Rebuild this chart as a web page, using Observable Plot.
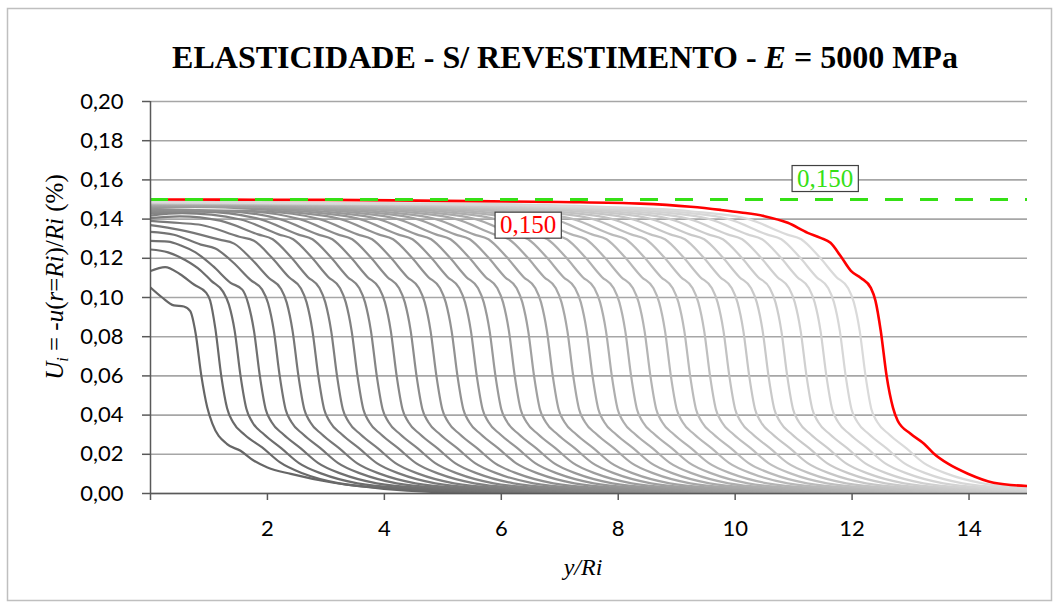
<!DOCTYPE html>
<html><head><meta charset="utf-8">
<script src="https://cdn.jsdelivr.net/npm/d3@7"></script>
<script src="https://cdn.jsdelivr.net/npm/@observablehq/plot@0.6"></script>
<style>
html,body{margin:0;padding:0;background:#fff;}
#chart{position:relative;width:1060px;height:608px;}
</style></head><body><div id="chart"></div>
<script>
// ---- data ----
const xTicks = [0, 2, 4, 6, 8, 10, 12, 14];
const yTicks = [0, 0.02, 0.04, 0.06, 0.08, 0.10, 0.12, 0.14, 0.16, 0.18, 0.20];
const threshold = 0.150;           // green dashed limit
const finalValue = 0.150;          // red curve value at the portal

// gray curves: one per excavation stage, [y/Ri, Ui (%)]
const stageCurves = [
 [[0,.1051],[0.2,.1000],[0.4,.0960],[0.57,.0954],[0.68,.0930],[0.77,.0820],[0.87,.0600],[0.97,.0440],[1.06,.0355],[1.31,.0252],[1.54,.0218],[1.77,.0167],[2.0,.0133],[2.4,.0100],[3.13,.0055],[3.99,.0024],[5.13,.0005],[6.5,0]],
 [[0,.1135],[0.25,.1155],[0.5,.1120],[0.75,.1065],[0.95,.1025],[1.02,.0985],[1.11,.0840],[1.21,.0600],[1.31,.0435],[1.41,.0365],[1.61,.0300],[1.91,.0235],[2.21,.0160],[2.61,.0102],[3.21,.0053],[4.21,.0024],[5.51,.0005],[7.0,0]],
 [[0,.1245],[0.3,.1230],[0.6,.1190],[0.85,.1140],[1.04,.1085],[1.24,.1030],[1.34,.0965],[1.44,.0830],[1.54,.0600],[1.64,.0432],[1.74,.0365],[1.94,.0302],[2.24,.0230],[2.54,.0155],[2.94,.0100],[3.54,.0052],[4.54,.0024],[5.84,.0005],[7.3,0]],
 [[0,.1289],[0.3,.1285],[0.52,.1265],[0.77,.1230],[1.07,.1160],[1.37,.1075],[1.57,.1040],[1.67,.0970],[1.77,.0830],[1.87,.0600],[1.97,.0430],[2.07,.0365],[2.27,.0302],[2.57,.0230],[2.87,.0155],[3.27,.0100],[3.87,.0052],[4.87,.0024],[6.17,.0005],[7.6,0]],
 [[0,.1335],[0.4,.1320],[0.86,.1270],[1.11,.1250],[1.41,.1180],[1.71,.1090],[1.91,.1040],[2.01,.0972],[2.11,.0830],[2.21,.0600],[2.31,.0430],[2.41,.0365],[2.61,.0302],[2.91,.0230],[3.21,.0155],[3.61,.0100],[4.21,.0052],[5.21,.0024],[6.51,.0005],[7.9,0]],
 [[0,.1369],[0.5,.1345],[1.18,.1295],[1.43,.1275],[1.73,.1195],[2.03,.1098],[2.23,.1045],[2.33,.0974],[2.43,.0830],[2.53,.0600],[2.63,.0430],[2.73,.0365],[2.93,.0302],[3.23,.0230],[3.53,.0155],[3.93,.0100],[4.53,.0052],[5.53,.0024],[6.83,.0005],[8.2,0]],
 [[0,.1391],[0.5,.1380],[0.87,.1370],[1.52,.1310],[1.77,.1290],[2.07,.1205],[2.37,.1103],[2.57,.1047],[2.67,.0975],[2.77,.0830],[2.87,.0600],[2.97,.0430],[3.07,.0365],[3.27,.0302],[3.57,.0230],[3.87,.0155],[4.27,.0100],[4.87,.0052],[5.87,.0024],[7.17,.0005],[8.6,0]],
 [[0,.1405],[0.5,.1414],[1.19,.1392],[1.84,.1322],[2.09,.1297],[2.39,.1210],[2.69,.1105],[2.89,.1048],[2.99,.0975],[3.09,.0830],[3.19,.0600],[3.29,.0430],[3.39,.0365],[3.59,.0302],[3.89,.0230],[4.19,.0155],[4.59,.0100],[5.19,.0052],[6.19,.0024],[7.49,.0005],[8.89,0]],
 [[0,.1418],[0.54,.1430],[1.54,.1398],[2.19,.1322],[2.44,.1297],[2.74,.1210],[3.04,.1105],[3.24,.1048],[3.34,.0975],[3.44,.0830],[3.54,.0600],[3.64,.0430],[3.74,.0365],[3.94,.0302],[4.24,.0230],[4.54,.0155],[4.94,.0100],[5.54,.0052],[6.54,.0024],[7.84,.0005],[9.24,0]],
 [[0,.1428],[0.87,.1438],[1.87,.1400],[2.52,.1322],[2.77,.1297],[3.07,.1210],[3.37,.1105],[3.57,.1048],[3.67,.0975],[3.77,.0830],[3.87,.0600],[3.97,.0430],[4.07,.0365],[4.27,.0302],[4.57,.0230],[4.87,.0155],[5.27,.0100],[5.87,.0052],[6.87,.0024],[8.17,.0005],[9.57,0]],
 [[0,.1436],[1.21,.1440],[2.21,.1400],[2.86,.1322],[3.11,.1297],[3.41,.1210],[3.71,.1105],[3.91,.1048],[4.01,.0975],[4.11,.0830],[4.21,.0600],[4.31,.0430],[4.41,.0365],[4.61,.0302],[4.91,.0230],[5.21,.0155],[5.61,.0100],[6.21,.0052],[7.21,.0024],[8.51,.0005],[9.91,0]],
 [[0,.1443],[1.55,.1440],[2.55,.1400],[3.2,.1322],[3.45,.1297],[3.75,.1210],[4.05,.1105],[4.25,.1048],[4.35,.0975],[4.45,.0830],[4.55,.0600],[4.65,.0430],[4.75,.0365],[4.95,.0302],[5.25,.0230],[5.55,.0155],[5.95,.0100],[6.55,.0052],[7.55,.0024],[8.85,.0005],[10.25,0]],
 [[0,.1449],[1.89,.1440],[2.89,.1400],[3.54,.1322],[3.79,.1297],[4.09,.1210],[4.39,.1105],[4.59,.1048],[4.69,.0975],[4.79,.0830],[4.89,.0600],[4.99,.0430],[5.09,.0365],[5.29,.0302],[5.59,.0230],[5.89,.0155],[6.29,.0100],[6.89,.0052],[7.89,.0024],[9.19,.0005],[10.59,0]],
 [[0,.1455],[0.75,.1462],[2.25,.1440],[3.25,.1400],[3.9,.1322],[4.15,.1297],[4.45,.1210],[4.75,.1105],[4.95,.1048],[5.05,.0975],[5.15,.0830],[5.25,.0600],[5.35,.0430],[5.45,.0365],[5.65,.0302],[5.95,.0230],[6.25,.0155],[6.65,.0100],[7.25,.0052],[8.25,.0024],[9.55,.0005],[10.95,0]],
 [[0,.1460],[1.08,.1462],[2.58,.1440],[3.58,.1400],[4.23,.1322],[4.48,.1297],[4.78,.1210],[5.08,.1105],[5.28,.1048],[5.38,.0975],[5.48,.0830],[5.58,.0600],[5.68,.0430],[5.78,.0365],[5.98,.0302],[6.28,.0230],[6.58,.0155],[6.98,.0100],[7.58,.0052],[8.58,.0024],[9.88,.0005],[11.28,0]],
 [[0,.1464],[1.4,.1462],[2.9,.1440],[3.9,.1400],[4.55,.1322],[4.8,.1297],[5.1,.1210],[5.4,.1105],[5.6,.1048],[5.7,.0975],[5.8,.0830],[5.9,.0600],[6.0,.0430],[6.1,.0365],[6.3,.0302],[6.6,.0230],[6.9,.0155],[7.3,.0100],[7.9,.0052],[8.9,.0024],[10.2,.0005],[11.6,0]],
 [[0,.1467],[1.73,.1462],[3.23,.1440],[4.23,.1400],[4.88,.1322],[5.13,.1297],[5.43,.1210],[5.73,.1105],[5.93,.1048],[6.03,.0975],[6.13,.0830],[6.23,.0600],[6.33,.0430],[6.43,.0365],[6.63,.0302],[6.93,.0230],[7.23,.0155],[7.63,.0100],[8.23,.0052],[9.23,.0024],[10.53,.0005],[11.93,0]],
 [[0,.1470],[2.06,.1462],[3.56,.1440],[4.56,.1400],[5.21,.1322],[5.46,.1297],[5.76,.1210],[6.06,.1105],[6.26,.1048],[6.36,.0975],[6.46,.0830],[6.56,.0600],[6.66,.0430],[6.76,.0365],[6.96,.0302],[7.26,.0230],[7.56,.0155],[7.96,.0100],[8.56,.0052],[9.56,.0024],[10.86,.0005],[12.26,0]],
 [[0,.1472],[0.88,.1475],[2.38,.1462],[3.88,.1440],[4.88,.1400],[5.53,.1322],[5.78,.1297],[6.08,.1210],[6.38,.1105],[6.58,.1048],[6.68,.0975],[6.78,.0830],[6.88,.0600],[6.98,.0430],[7.08,.0365],[7.28,.0302],[7.58,.0230],[7.88,.0155],[8.28,.0100],[8.88,.0052],[9.88,.0024],[11.18,.0005],[12.58,0]],
 [[0,.1474],[1.23,.1475],[2.73,.1462],[4.23,.1440],[5.23,.1400],[5.88,.1322],[6.13,.1297],[6.43,.1210],[6.73,.1105],[6.93,.1048],[7.03,.0975],[7.13,.0830],[7.23,.0600],[7.33,.0430],[7.43,.0365],[7.63,.0302],[7.93,.0230],[8.23,.0155],[8.63,.0100],[9.23,.0052],[10.23,.0024],[11.53,.0005],[12.93,0]],
 [[0,.1476],[1.56,.1475],[3.06,.1462],[4.56,.1440],[5.56,.1400],[6.21,.1322],[6.46,.1297],[6.76,.1210],[7.06,.1105],[7.26,.1048],[7.36,.0975],[7.46,.0830],[7.56,.0600],[7.66,.0430],[7.76,.0365],[7.96,.0302],[8.26,.0230],[8.56,.0155],[8.96,.0100],[9.56,.0052],[10.56,.0024],[11.86,.0005],[13.26,0]],
 [[0,.1478],[1.89,.1475],[3.39,.1462],[4.89,.1440],[5.89,.1400],[6.54,.1322],[6.79,.1297],[7.09,.1210],[7.39,.1105],[7.59,.1048],[7.69,.0975],[7.79,.0830],[7.89,.0600],[7.99,.0430],[8.09,.0365],[8.29,.0302],[8.59,.0230],[8.89,.0155],[9.29,.0100],[9.89,.0052],[10.89,.0024],[12.19,.0005],[13.59,0]],
 [[0,.1479],[2.22,.1475],[3.72,.1462],[5.22,.1440],[6.22,.1400],[6.87,.1322],[7.12,.1297],[7.42,.1210],[7.72,.1105],[7.92,.1048],[8.02,.0975],[8.12,.0830],[8.22,.0600],[8.32,.0430],[8.42,.0365],[8.62,.0302],[8.92,.0230],[9.22,.0155],[9.62,.0100],[10.22,.0052],[11.22,.0024],[12.52,.0005],[13.92,0]],
 [[0,.1480],[2.55,.1475],[4.05,.1462],[5.55,.1440],[6.55,.1400],[7.2,.1322],[7.45,.1297],[7.75,.1210],[8.05,.1105],[8.25,.1048],[8.35,.0975],[8.45,.0830],[8.55,.0600],[8.65,.0430],[8.75,.0365],[8.95,.0302],[9.25,.0230],[9.55,.0155],[9.95,.0100],[10.55,.0052],[11.55,.0024],[12.85,.0005],[14.25,0]],
 [[0,.1481],[2.9,.1475],[4.4,.1462],[5.9,.1440],[6.9,.1400],[7.55,.1322],[7.8,.1297],[8.1,.1210],[8.4,.1105],[8.6,.1048],[8.7,.0975],[8.8,.0830],[8.9,.0600],[9.0,.0430],[9.1,.0365],[9.3,.0302],[9.6,.0230],[9.9,.0155],[10.3,.0100],[10.9,.0052],[11.9,.0024],[13.2,.0005],[14.6,0]],
 [[0,.1482],[3.23,.1475],[4.73,.1462],[6.23,.1440],[7.23,.1400],[7.88,.1322],[8.13,.1297],[8.43,.1210],[8.73,.1105],[8.93,.1048],[9.03,.0975],[9.13,.0830],[9.23,.0600],[9.33,.0430],[9.43,.0365],[9.63,.0302],[9.93,.0230],[10.23,.0155],[10.63,.0100],[11.23,.0052],[12.23,.0024],[13.53,.0005],[14.93,0]],
 [[0,.1483],[3.57,.1475],[5.07,.1462],[6.57,.1440],[7.57,.1400],[8.22,.1322],[8.47,.1297],[8.77,.1210],[9.07,.1105],[9.27,.1048],[9.37,.0975],[9.47,.0830],[9.57,.0600],[9.67,.0430],[9.77,.0365],[9.97,.0302],[10.27,.0230],[10.57,.0155],[10.97,.0100],[11.57,.0052],[12.57,.0024],[13.87,.0005],[15.27,0]],
 [[0,.1484],[3.9,.1475],[5.4,.1462],[6.9,.1440],[7.9,.1400],[8.55,.1322],[8.8,.1297],[9.1,.1210],[9.4,.1105],[9.6,.1048],[9.7,.0975],[9.8,.0830],[9.9,.0600],[10.0,.0430],[10.1,.0365],[10.3,.0302],[10.6,.0230],[10.9,.0155],[11.3,.0100],[11.9,.0052],[12.9,.0024],[14.2,.0005],[15.6,0]],
 [[0,.1485],[4.24,.1475],[5.74,.1462],[7.24,.1440],[8.24,.1400],[8.89,.1322],[9.14,.1297],[9.44,.1210],[9.74,.1105],[9.94,.1048],[10.04,.0975],[10.14,.0830],[10.24,.0600],[10.34,.0430],[10.44,.0365],[10.64,.0302],[10.94,.0230],[11.24,.0155],[11.64,.0100],[12.24,.0052],[13.24,.0024],[14.54,.0005],[15.94,0]],
 [[0,.1485],[4.57,.1475],[6.07,.1462],[7.57,.1440],[8.57,.1400],[9.22,.1322],[9.47,.1297],[9.77,.1210],[10.07,.1105],[10.27,.1048],[10.37,.0975],[10.47,.0830],[10.57,.0600],[10.67,.0430],[10.77,.0365],[10.97,.0302],[11.27,.0230],[11.57,.0155],[11.97,.0100],[12.57,.0052],[13.57,.0024],[14.87,.0005],[16.27,0]],
 [[0,.1486],[4.89,.1475],[6.39,.1462],[7.89,.1440],[8.89,.1400],[9.54,.1322],[9.79,.1297],[10.09,.1210],[10.39,.1105],[10.59,.1048],[10.69,.0975],[10.79,.0830],[10.89,.0600],[10.99,.0430],[11.09,.0365],[11.29,.0302],[11.59,.0230],[11.89,.0155],[12.29,.0100],[12.89,.0052],[13.89,.0024],[15.19,.0005]],
 [[0,.1487],[5.22,.1475],[6.72,.1462],[8.22,.1440],[9.22,.1400],[9.87,.1322],[10.12,.1297],[10.42,.1210],[10.72,.1105],[10.92,.1048],[11.02,.0975],[11.12,.0830],[11.22,.0600],[11.32,.0430],[11.42,.0365],[11.62,.0302],[11.92,.0230],[12.22,.0155],[12.62,.0100],[13.22,.0052],[14.22,.0024],[15.52,.0005]],
 [[0,.1487],[5.56,.1475],[7.06,.1462],[8.56,.1440],[9.56,.1400],[10.21,.1322],[10.46,.1297],[10.76,.1210],[11.06,.1105],[11.26,.1048],[11.36,.0975],[11.46,.0830],[11.56,.0600],[11.66,.0430],[11.76,.0365],[11.96,.0302],[12.26,.0230],[12.56,.0155],[12.96,.0100],[13.56,.0052],[14.56,.0024],[15.86,.0005]],
 [[0,.1488],[5.89,.1475],[7.39,.1462],[8.89,.1440],[9.89,.1400],[10.54,.1322],[10.79,.1297],[11.09,.1210],[11.39,.1105],[11.59,.1048],[11.69,.0975],[11.79,.0830],[11.89,.0600],[11.99,.0430],[12.09,.0365],[12.29,.0302],[12.59,.0230],[12.89,.0155],[13.29,.0100],[13.89,.0052],[14.89,.0024],[16.19,.0005]],
 [[0,.1488],[6.23,.1475],[7.73,.1462],[9.23,.1440],[10.23,.1400],[10.88,.1322],[11.13,.1297],[11.43,.1210],[11.73,.1105],[11.93,.1048],[12.03,.0975],[12.13,.0830],[12.23,.0600],[12.33,.0430],[12.43,.0365],[12.63,.0302],[12.93,.0230],[13.23,.0155],[13.63,.0100],[14.23,.0052],[15.23,.0024]]
];

// red curve: final stage
const finalCurve = [[0,.1500],[3,.1498],[5,.1493],[7,.1487],[8.38,.1479],[9.24,.1463],[9.75,.1447],[10.1,.1434],[10.5,.1415],[10.9,.1381],[11.24,.1330],[11.46,.1304],[11.63,.1279],[11.8,.1213],[11.98,.1136],[12.15,.1100],[12.32,.1049],[12.4,.0983],[12.49,.0830],[12.59,.0600],[12.7,.0437],[12.78,.0371],[13.0,.0305],[13.23,.0254],[13.4,.0203],[13.64,.0152],[13.98,.0101],[14.42,.0055],[15.0,.0038]];

// ---- build tables ----
const stageRows = stageCurves.flatMap((pts, k) => pts.map(([x, u]) => ({stage: k, x, u})));
const finalRows = finalCurve.map(([x, u]) => ({x, u}));

const loc = d3.formatLocale({decimal: ",", thousands: ".", grouping: [3], currency: ["", ""]});
const fmt2 = loc.format(".2f");
const fmt3 = loc.format(".3f");

const chart = Plot.plot({
  width: 1060, height: 608,
  marginLeft: 150, marginRight: 33, marginTop: 101, marginBottom: 115,
  style: {fontFamily: "Lato", fontSize: "22px", color: "#000", background: "#fff"},
  x: {domain: [0, 15]},
  y: {domain: [0, 0.2]},
  color: {type: "linear", domain: [0, stageCurves.length - 1], range: ["#666666", "#dadada"]},
  marks: [
    Plot.gridY(yTicks, {stroke: "#a6a6a6", strokeOpacity: 1, strokeWidth: 1.6}),
    Plot.line(stageRows, {x: "x", y: "u", z: "stage", stroke: "stage", strokeWidth: 2.2, curve: "monotone-x", clip: true}),
    Plot.line(finalRows, {x: "x", y: "u", stroke: "#ff0000", strokeWidth: 2.6, curve: "monotone-x", clip: true}),
    Plot.ruleY([threshold], {stroke: "#35e015", strokeWidth: 3, strokeDasharray: "18,17"}),
    Plot.ruleX([0], {stroke: "#595959", strokeWidth: 1.5}),
    Plot.ruleY([0], {stroke: "#595959", strokeWidth: 1.5}),
    Plot.axisY({ticks: yTicks, tickSize: 8, tickPadding: 19, tickFormat: fmt2, label: null, stroke: "#595959", strokeWidth: 1.5, fill: "#000", fontSize: 22, fontWeight: 400}),
    Plot.axisX({ticks: xTicks, tickSize: 7, tickPadding: 20, tickFormat: d => d === 0 ? "" : String(d), label: null, stroke: "#595959", strokeWidth: 1.5, fill: "#000", fontSize: 22, fontWeight: 400}),
    Plot.text([threshold], {x: 11.54, y: 0.1607, text: d => fmt3(d), fill: "#35e015", fontSize: 25, fontFamily: "Liberation Serif", textAnchor: "middle", lineAnchor: "middle", className: "lbl-green"}),
    Plot.text([finalValue], {x: 6.46, y: 0.1369, text: d => fmt3(d), fill: "#ff0000", fontSize: 25, fontFamily: "Liberation Serif", textAnchor: "middle", lineAnchor: "middle", className: "lbl-red"})
  ]
});
document.getElementById("chart").appendChild(chart);

const svg = d3.select(chart);
// boxes behind value labels
["lbl-green", "lbl-red"].forEach(cls => {
  svg.selectAll("." + cls + " text").each(function() {
    const b = this.getBBox();
    const t = this.getAttribute("transform");
    const r = d3.select(this.parentNode).insert("rect", () => this)
      .attr("x", b.x - 5).attr("y", b.y + 1).attr("width", b.width + 10).attr("height", b.height - 1)
      .attr("fill", "#fff").attr("stroke", "#404040").attr("stroke-width", 1.2);
    if (t) r.attr("transform", t);
  });
});
// outer border
svg.insert("rect", ":first-child").attr("x", 7.5).attr("y", 8.5).attr("width", 1044).attr("height", 592)
  .attr("fill", "#fff").attr("stroke", "#bfbfbf").attr("stroke-width", 1.5);
// title
const title = svg.append("text").attr("x", 565).attr("y", 68).attr("text-anchor", "middle")
  .style("font-family", "Liberation Serif").style("font-size", "32px").style("font-weight", "bold").attr("fill", "#000");
title.append("tspan").text("ELASTICIDADE - S/ REVESTIMENTO - ");
title.append("tspan").style("font-style", "italic").text("E");
title.append("tspan").text(" = 5000 MPa");
// y label
const yl = svg.append("text").attr("transform", "translate(63,277) rotate(-90)").attr("text-anchor", "middle")
  .style("font-family", "Liberation Serif").style("font-size", "25px").attr("fill", "#000");
yl.append("tspan").style("font-style", "italic").text("U");
yl.append("tspan").style("font-style", "italic").style("font-size", "16px").attr("dy", 5).text("i");
yl.append("tspan").attr("dy", -5).text(" = -");
yl.append("tspan").style("font-style", "italic").text("u");
yl.append("tspan").text("(");
yl.append("tspan").style("font-style", "italic").text("r");
yl.append("tspan").text("=");
yl.append("tspan").style("font-style", "italic").text("Ri");
yl.append("tspan").text(")/");
yl.append("tspan").style("font-style", "italic").text("Ri");
yl.append("tspan").text(" (%)");
// x label
svg.append("text").attr("x", 583).attr("y", 575).attr("text-anchor", "middle")
  .style("font-family", "Liberation Serif").style("font-size", "24px").style("font-style", "italic").attr("fill", "#000")
  .text("y/Ri");
</script>
</body></html>
